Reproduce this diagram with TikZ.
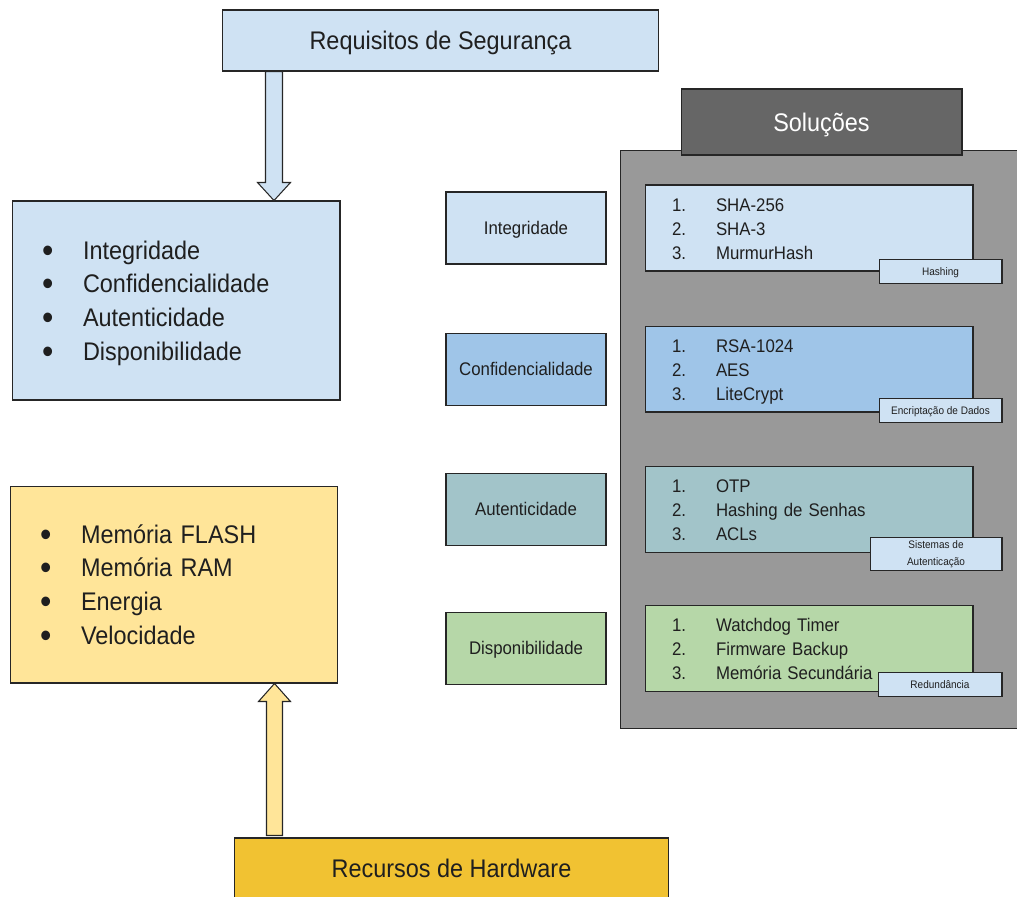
\documentclass[tikz,border=0pt]{standalone}
\usepackage{fontspec}
\setmainfont[FakeStretch=0.92]{Liberation Sans}
\usetikzlibrary{positioning, calc}

\definecolor{PaleBlue}{HTML}{CFE2F3}
\definecolor{SkyBlue}{HTML}{9FC5E8}
\definecolor{GreyTeal}{HTML}{A2C4C9}
\definecolor{SoftGreen}{HTML}{B6D7A8}
\definecolor{SoftYellow}{HTML}{FFE599}
\definecolor{Gold}{HTML}{F1C232}
\definecolor{HeadGrey}{HTML}{666666}
\definecolor{PanelGrey}{HTML}{999999}
\definecolor{Edge}{HTML}{262626}
\definecolor{Ink}{HTML}{1F1F1F}

\newcommand{\bulletitem}[1]{\makebox[0.82cm][l]{\raisebox{-1.7pt}{\fontsize{20}{20}\selectfont\textbullet}}#1}
\newcommand{\solitem}[2]{\makebox[0.88cm][l]{#1}#2}

\begin{document}
\begin{tikzpicture}[x=0.02cm, y=-0.02cm]
        \tikzstyle{box} = [rectangle, draw=Edge, line width=0.6pt, inner sep=0pt, text=Ink]
        \tikzstyle{oneline} = [text height=#1, text depth=0pt]
        \tikzstyle{title} = [box, font=\fontsize{14.5}{17}\selectfont, oneline=10.4pt]
        \tikzstyle{listbox} = [box, minimum width=6.56cm, inner xsep=0.6cm, text width=5.36cm, align=left, font=\fontsize{14.5}{19.2}\selectfont,
            execute at begin node={\rule{0pt}{13.6pt}}, execute at end node={\rule[-3.2pt]{0pt}{3.2pt}}]
        \tikzstyle{reqbox} = [box, minimum width=3.2cm, minimum height=1.44cm, font=\fontsize{10.4}{12}\selectfont, oneline=7.45pt]
        \tikzstyle{solbox} = [box, minimum width=6.56cm, minimum height=1.72cm, inner xsep=0.54cm, text width=5.48cm, align=left, font=\fontsize{10.4}{13.66}\selectfont,
            execute at begin node={\rule{0pt}{10.8pt}}, execute at end node={\rule[-2.2pt]{0pt}{2.2pt}}]
        \tikzstyle{tag} = [box, fill=PaleBlue, minimum width=2.46cm, minimum height=0.48cm, align=center, font=\fontsize{6.2}{9.5}\selectfont]
        \tikzstyle{fatarrow} = [draw=Edge, line width=0.6pt, line join=miter]

        \useasboundingbox (0,0) rectangle (1017,896);

        % Left column
        \node (req) [title, fill=PaleBlue, minimum width=8.74cm, minimum height=1.22cm] at (440.5,40.5) {Requisitos de Segurança};
        \node (secbox) [listbox, fill=PaleBlue, minimum height=3.98cm] at (176,300.5)
            {\bulletitem{Integridade}\\\bulletitem{Confidencialidade}\\\bulletitem{Autenticidade}\\\bulletitem{Disponibilidade}};
        \node (hwbox) [listbox, fill=SoftYellow, minimum height=3.94cm] at (174,584.5)
            {\bulletitem{Memória FLASH}\\\bulletitem{Memória RAM}\\\bulletitem{Energia}\\\bulletitem{Velocidade}};
        \node (hw) [title, fill=Gold, minimum width=8.7cm, minimum height=1.2cm] at (451.5,868) {Recursos de Hardware};

        % Block arrows
        \coordinate (reqfoot) at ($(req.south west)+(52.5,0)$);
        \coordinate (sectop) at ($(secbox.north west)+(262.5,0)$);
        \draw [fatarrow, fill=PaleBlue] ($(reqfoot)+(-8.5,0)$) -- ($(sectop)+(-8.5,-18)$) -- ($(sectop)+(-16.5,-18)$)
            -- (sectop) -- ($(sectop)+(16.5,-18)$) -- ($(sectop)+(8.5,-18)$) -- ($(reqfoot)+(8.5,0)$) -- cycle;
        \coordinate (hwtop) at ($(hw.north west)+(41,-2)$);
        \coordinate (hwfoot) at ($(hwbox.south west)+(265,0)$);
        \draw [fatarrow, fill=SoftYellow] ($(hwtop)+(-8,0)$) -- ($(hwfoot)+(-8,18)$) -- ($(hwfoot)+(-16,18)$)
            -- (hwfoot) -- ($(hwfoot)+(16,18)$) -- ($(hwfoot)+(8,18)$) -- ($(hwtop)+(8,0)$) -- cycle;

        % Solutions panel
        \node (panel) [box, fill=PanelGrey, minimum width=7.98cm, minimum height=11.58cm] at (819.5,439.5) {};
        \node (sol) [title, fill=HeadGrey, text=white, minimum width=5.62cm, minimum height=1.32cm] at (821.5,122) {Soluções};

        % Requirements and their solutions
        \node (integ) [reqbox, fill=PaleBlue] at (526,228) {Integridade};
        \node (conf) [reqbox, fill=SkyBlue, below=1.36cm of integ] {Confidencialidade};
        \node (auth) [reqbox, fill=GreyTeal, below=1.34cm of conf] {Autenticidade};
        \node (avail) [reqbox, fill=SoftGreen, below=1.32cm of auth] {Disponibilidade};

        \node (hashsol) [solbox, fill=PaleBlue, right=0.76cm of integ]
            {\solitem{1.}{SHA-256}\\\solitem{2.}{SHA-3}\\\solitem{3.}{MurmurHash}};
        \node (cryptsol) [solbox, fill=SkyBlue, right=0.76cm of conf]
            {\solitem{1.}{RSA-1024}\\\solitem{2.}{AES}\\\solitem{3.}{LiteCrypt}};
        \node (authsol) [solbox, fill=GreyTeal, right=0.76cm of auth]
            {\solitem{1.}{OTP}\\\solitem{2.}{Hashing de Senhas}\\\solitem{3.}{ACLs}};
        \node (redsol) [solbox, fill=SoftGreen, right=0.76cm of avail]
            {\solitem{1.}{Watchdog Timer}\\\solitem{2.}{Firmware Backup}\\\solitem{3.}{Memória Secundária}};

        % Tags
        \node (hashtag) [tag, oneline=4.45pt, anchor=west] at ($(hashsol.south east)+(-95,0)$) {Hashing};
        \node (crypttag) [tag, oneline=4.45pt, anchor=west] at ($(cryptsol.south east)+(-95,-2)$) {Encriptação de Dados};
        \node (authtag) [tag, anchor=west, minimum width=2.64cm, minimum height=0.66cm] at ($(authsol.south east)+(-104,1.5)$) {Sistemas de\\Autenticação};
        \node (redtag) [tag, oneline=4.45pt, anchor=west, minimum width=2.48cm] at ($(redsol.south east)+(-96,-7)$) {Redundância};
    \end{tikzpicture}
\end{document}
